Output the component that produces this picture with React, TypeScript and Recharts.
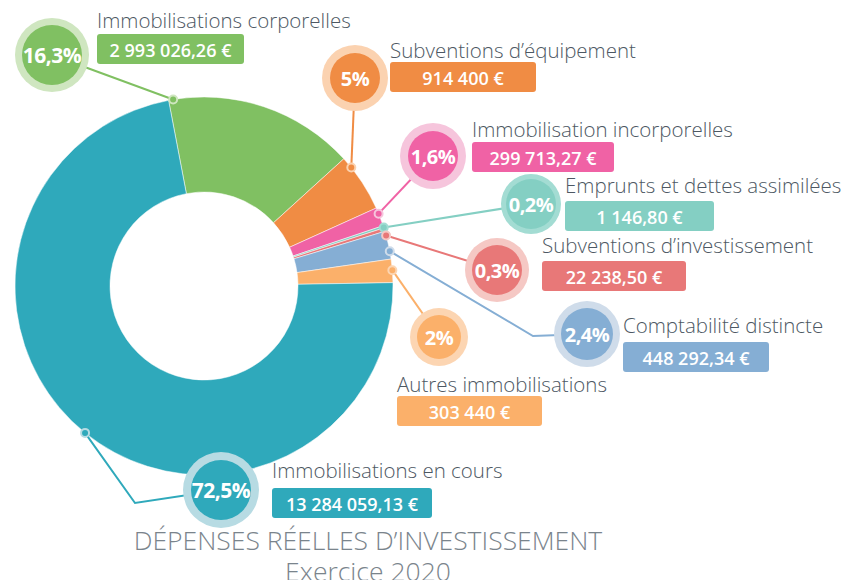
import { Cell, Pie, PieChart } from 'recharts';

const categories = [
  'Immobilisations corporelles',
  'Subventions d’équipement',
  'Immobilisation incorporelles',
  'Emprunts et dettes assimilées',
  'Subventions d’investissement',
  'Comptabilité distincte',
  'Autres immobilisations',
  'Immobilisations en cours',
];
const percents = [16.3, 5, 1.6, 0.2, 0.3, 2.4, 2, 72.5];
const amounts = [
  2993026.26, 914400, 299713.27, 1146.8, 22238.5, 448292.34, 303440,
  13284059.13,
];
const titleLines = ['DÉPENSES RÉELLES D’INVESTISSEMENT', 'Exercice 2020'];

const colors = [
  '#80c062',
  '#f08c44',
  '#f062a5',
  '#84cfc3',
  '#e87878',
  '#85aed4',
  '#fbb06a',
  '#2fa9bb',
];
const rings = [
  '#cfe6c0',
  '#fbd2b0',
  '#f6c5dc',
  '#a3dcd3',
  '#f5c8c4',
  '#cfdcea',
  '#fcd5b2',
  '#b7dbe3',
];

// where each callout sits (dot angle on the outer edge, bubble, text, box)
const labelLayout = [
  { a: 99.4, bx: 52, by: 55, ro: 37, ri: 30, ps: 21, tx: 97, ty: 28, boxY: 34, boxW: 147 },
  { a: 38.8, bx: 355, by: 78, ro: 33, ri: 25, ps: 20, tx: 390, ty: 58, boxY: 62, boxW: 146 },
  { a: 22.5, bx: 433, by: 156, ro: 33, ri: 25, ps: 20, tx: 472, ty: 137, boxY: 142, boxW: 142 },
  { a: 18, bx: 531, by: 204, ro: 30, ri: 25, ps: 20, tx: 565, ty: 193, boxY: 201, boxW: 149 },
  { a: 15.5, bx: 497, by: 270, ro: 32, ri: 25, ps: 20, tx: 542, ty: 253, boxY: 261, boxW: 144 },
  { a: 10.6, bx: 587, by: 334, ro: 33, ri: 26, ps: 20, tx: 623, ty: 333, boxY: 342, boxW: 146, elbow: [533, 336] },
  { a: 4.8, bx: 439, by: 337, ro: 29, ri: 22, ps: 20, tx: 397, ty: 392, boxY: 396, boxW: 145 },
  { a: 231, bx: 221, by: 490, ro: 38, ri: 30, ps: 21, tx: 272, ty: 478, boxY: 488, boxW: 160, elbow: [135, 503] },
];

const data = categories.map((name, i) => ({ name, pct: percents[i] }));

const fmtAmount = (v: number) => {
  const [int, dec] = v.toFixed(2).split('.');
  const grouped = int.replace(/\B(?=(\d{3})+(?!\d))/g, ' ');
  return Number.isInteger(v) ? `${grouped} €` : `${grouped},${dec} €`;
};
const fmtPct = (v: number) => `${String(v).replace('.', ',')}%`;

const renderLabel = (props: any) => {
  const { cx, cy, outerRadius, index } = props;
  const l: any = labelLayout[index];
  const rad = (l.a * Math.PI) / 180;
  const dx = cx + outerRadius * Math.cos(rad);
  const dy = cy - outerRadius * Math.sin(rad);
  const pts = [[dx, dy], ...(l.elbow ? [l.elbow] : []), [l.bx, l.by]]
    .map((p) => p.join(','))
    .join(' ');
  return (
    <g key={`callout-${index}`}>
      <polyline points={pts} fill="none" stroke={colors[index]} strokeWidth={2} />
      <circle cx={dx} cy={dy} r={4} fill={colors[index]} stroke={rings[index]} strokeWidth={2} />
      <circle cx={l.bx} cy={l.by} r={l.ro} fill={rings[index]} />
      <circle cx={l.bx} cy={l.by} r={l.ri} fill={colors[index]} />
      <text
        x={l.bx}
        y={l.by}
        textAnchor="middle"
        dominantBaseline="central"
        fill="#fff"
        fontSize={l.ps}
        fontWeight={700}
        letterSpacing={-0.5}
      >
        {fmtPct(percents[index])}
      </text>
      <text x={l.tx} y={l.ty} fill="#4d5863" fontSize={20.5} fontWeight={300}>
        {categories[index]}
      </text>
      <rect x={l.tx} y={l.boxY} width={l.boxW} height={30} rx={3} fill={colors[index]} />
      <text
        x={l.tx + l.boxW / 2}
        y={l.boxY + 16}
        textAnchor="middle"
        dominantBaseline="central"
        fill="#fff"
        fontSize={18}
        fontWeight={600}
      >
        {fmtAmount(amounts[index])}
      </text>
    </g>
  );
};

export default function App() {
  return (
    <div
      style={{
        position: 'absolute',
        left: 0,
        top: 0,
        width: 853,
        height: 580,
        background: '#fff',
        overflow: 'hidden',
        fontFamily: '"Open Sans", sans-serif',
      }}
    >
      <PieChart width={853} height={580}>
        <Pie
          data={data}
          dataKey="pct"
          nameKey="name"
          cx={199}
          cy={281}
          innerRadius={94}
          outerRadius={189}
          startAngle={100.8}
          endAngle={-259.2}
          stroke="#fff"
          strokeWidth={0.5}
          label={renderLabel}
          labelLine={false}
          isAnimationActive={false}
        >
          {data.map((entry, index) => (
            <Cell key={entry.name} fill={colors[index]} />
          ))}
        </Pie>
      </PieChart>
      <div
        style={{
          position: 'absolute',
          left: 0,
          width: 736,
          top: 525,
          textAlign: 'center',
          color: '#7a848c',
          fontSize: 26.5,
          fontWeight: 300,
          lineHeight: '31px',
        }}
      >
        {titleLines.map((t) => (
          <div key={t}>{t}</div>
        ))}
      </div>
    </div>
  );
}
